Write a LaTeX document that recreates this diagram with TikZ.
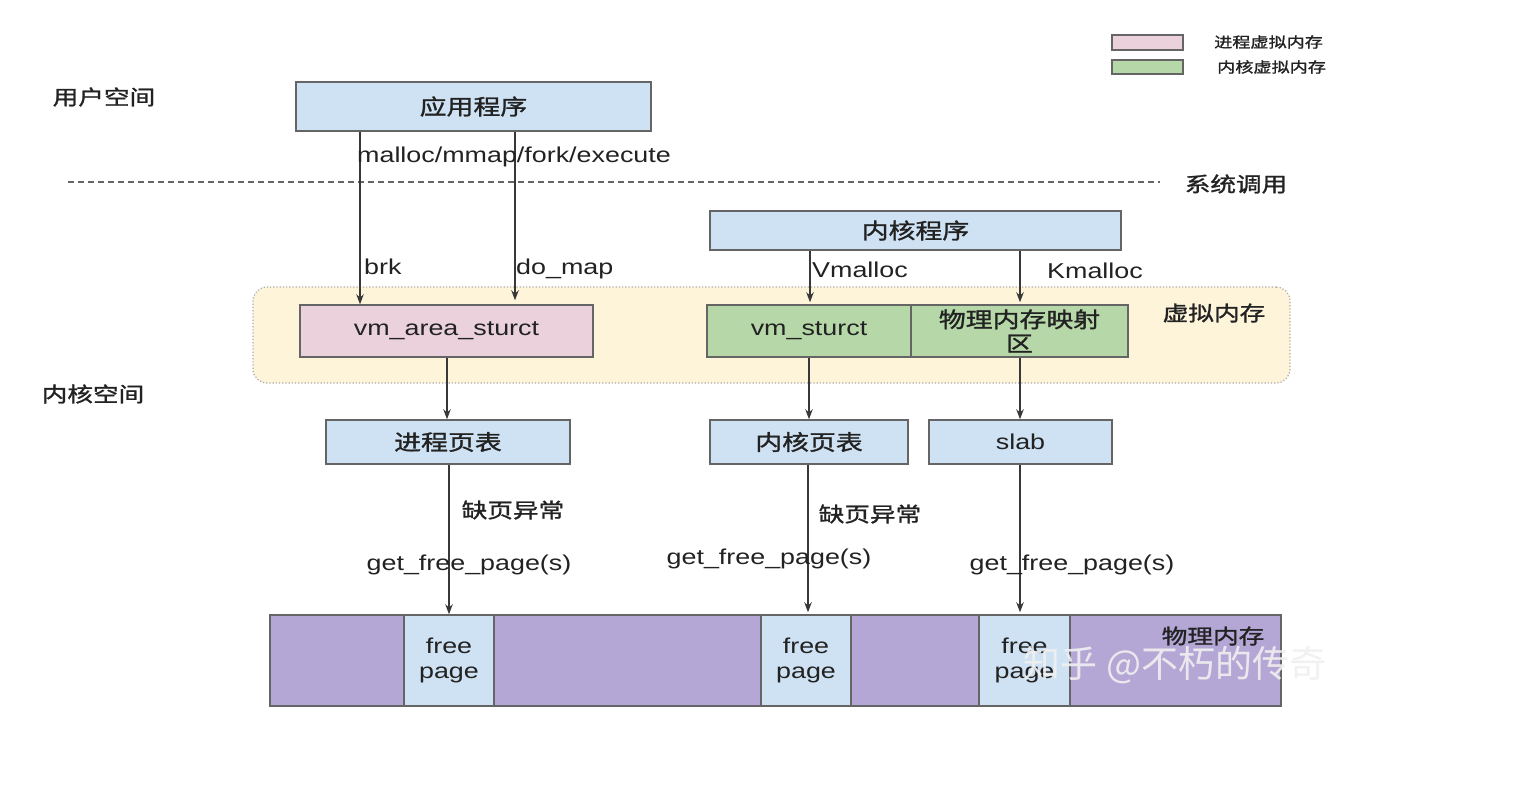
\documentclass[tikz,border=0pt]{standalone}
\usepackage{fontspec}
\setmainfont{Liberation Sans}[FakeStretch=1.25]
\newfontfamily\cjk{Noto Sans CJK SC}[FakeStretch=1.25, FakeBold=1.3]
\newfontfamily\wmfont{Noto Sans CJK SC}
\usetikzlibrary{arrows.meta,calc}
\definecolor{boxblue}{HTML}{CFE2F3}
\definecolor{boxpink}{HTML}{EAD1DC}
\definecolor{boxgreen}{HTML}{B6D7A8}
\definecolor{regyellow}{HTML}{FDF4DA}
\definecolor{physpurple}{HTML}{B4A7D6}
\definecolor{edgegray}{HTML}{656565}
\definecolor{txt}{HTML}{222222}
\tikzset{
  box/.style={draw=edgegray, line width=1.5pt, inner sep=0pt, font=\fontsize{21.5}{25}\selectfont, text=txt, align=center},
  arr/.style={draw=txt!90, line width=1.2pt, -{Stealth[length=10pt,width=7.5pt]}},
  lbl/.style={font=\fontsize{21.5}{25}\selectfont, text=txt, inner sep=0pt},
  clbl/.style={font=\cjk\fontsize{20.5}{24}\selectfont, text=txt, inner sep=0pt},
}
\newcommand{\boxat}[6]{% name, x1,y1,x2,y2, style
  \node[box,#6, minimum width={#4-#2}, minimum height={#5-#3}] (#1) at ({(#2+#4)/2},{(#3+#5)/2})}
\begin{document}
\begin{tikzpicture}[x=1pt,y=-1pt]
\fill[white] (0,0) rectangle (1526,790);
\useasboundingbox (0,0) rectangle (1526,790);

% legend
\boxat{legp}{1112}{35}{1183}{50}{fill=boxpink, line width=1.2pt}{};
\boxat{legg}{1112}{60}{1183}{74}{fill=boxgreen, line width=1.2pt}{};
\node[font=\cjk\fontsize{14.5}{17}\selectfont, text=txt, anchor=west, inner sep=0pt] (legpt) at (1214,42) {进程虚拟内存};
\node[font=\cjk\fontsize{14.5}{17}\selectfont, text=txt, anchor=west, inner sep=0pt] (leggt) at (1217,67) {内核虚拟内存};

% region labels
\node[clbl] (user) at (104,97) {用户空间};
\node[clbl] (kern) at (93,394) {内核空间};
\node[clbl] (sysc) at (1236,184) {系统调用};

% dashed syscall line
\coordinate (dl) at (68,182);
\coordinate (dr) at (1160,182);
\draw[edgegray, line width=1.1pt, dash pattern=on 6pt off 4pt] (dl) -- (dr);

% virtual memory region
\node[draw=edgegray!55, fill=regyellow, dotted, line width=1.2pt, rounded corners=14pt,
      minimum width=1037, minimum height=96, inner sep=0pt] (vreg) at (771.5,335) {};
\node[clbl] (vlbl) at (1214,313) {虚拟内存};

% boxes
\boxat{app}{296}{82}{651}{131}{fill=boxblue}{\cjk 应用程序};
\boxat{kprog}{710}{211}{1121}{250}{fill=boxblue}{\cjk 内核程序};
\boxat{vma}{300}{305}{593}{357}{fill=boxpink}{vm\_area\_sturct};
\boxat{vms}{707}{305}{911}{357}{fill=boxgreen}{vm\_sturct};
\boxat{pmap}{911}{305}{1128}{357}{fill=boxgreen}{\cjk 物理内存映射\\[-1pt]\cjk 区};
\boxat{ppt}{326}{420}{570}{464}{fill=boxblue}{\cjk 进程页表};
\boxat{kpt}{710}{420}{908}{464}{fill=boxblue}{\cjk 内核页表};
\boxat{slab}{929}{420}{1112}{464}{fill=boxblue}{slab};

% physical memory
\boxat{phys}{270}{615}{1281}{706}{fill=physpurple}{};
\boxat{fpa}{404}{615}{494}{706}{fill=boxblue}{free\\page};
\boxat{fpb}{761}{615}{851}{706}{fill=boxblue}{free\\page};
\boxat{fpc}{979}{615}{1070}{706}{fill=boxblue}{free\\page};
\node[clbl] (plbl) at (1213,636) {物理内存};

% arrows
\draw[arr] (app.south -| 360,0) -- (vma.north -| 360,0);
\draw[arr] (app.south -| 515,0) -- ($(vma.north -| 515,0)+(0,-4)$);
\draw[arr] (kprog.south -| 810,0) -- ($(vms.north -| 810,0)+(0,-2)$);
\draw[arr] (kprog.south -| 1020,0) -- ($(pmap.north -| 1020,0)+(0,-2)$);
\draw[arr] (vma.south -| 447,0) -- (ppt.north -| 447,0);
\draw[arr] (vms.south -| 809,0) -- (kpt.north -| 809,0);
\draw[arr] (pmap.south -| 1020,0) -- (slab.north -| 1020,0);
\draw[arr] (ppt.south -| 449,0) -- (fpa.north -| 449,0);
\draw[arr] (kpt.south -| 808,0) -- ($(fpb.north -| 808,0)+(0,-2)$);
\draw[arr] (slab.south -| 1020,0) -- ($(fpc.north -| 1020,0)+(0,-2)$);

% labels
\node[lbl] (mlbl) at (514,157) {malloc/mmap/fork/execute};
\node[lbl, anchor=west] (brk) at (364,267) {brk};
\node[lbl, anchor=west] (domap) at (516,269) {do\_map};
\node[lbl, anchor=west] (vmal) at (812,270) {Vmalloc};
\node[lbl, anchor=west] (kmal) at (1047,271) {Kmalloc};
\node[clbl] (pf1) at (513,510) {缺页异常};
\node[clbl] (pf2) at (870,514) {缺页异常};
\node[lbl] (g1) at (469,565) {get\_free\_page(s)};
\node[lbl] (g2) at (769,559) {get\_free\_page(s)};
\node[lbl] (g3) at (1072,565) {get\_free\_page(s)};

% watermark
\node[font=\wmfont\fontsize{37}{40}\selectfont, text=white!88!gray, opacity=0.9, inner sep=0pt] (wm) at (1175,665) {知乎 @不朽的传奇};
\end{tikzpicture}
\end{document}
